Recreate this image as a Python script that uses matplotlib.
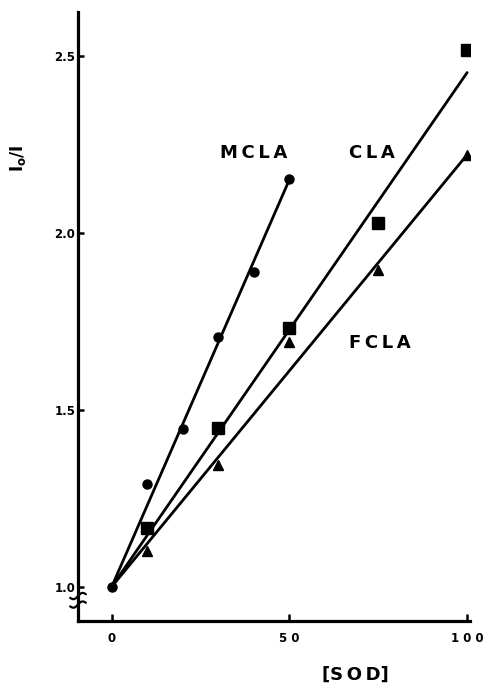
import matplotlib
matplotlib.use("Agg")
import matplotlib.pyplot as plt
import numpy as np

# ---- data ----
mcla_x = [0, 10, 20, 30, 40, 50]
mcla_y = [1.00, 1.29, 1.445, 1.705, 1.89, 2.15]
cla_x = [0, 10, 30, 50, 75, 100]
cla_y = [1.00, 1.165, 1.447, 1.73, 2.028, 2.516]
fcla_x = [0, 10, 30, 50, 75, 100]
fcla_y = [1.00, 1.10, 1.345, 1.69, 1.895, 2.22]

# regression lines (start / end points)
mcla_fit_x = [0, 50]
mcla_fit_y = [1.00, 2.15]
cla_fit_x = [0, 100]
cla_fit_y = [1.00, 2.452]
fcla_fit_x = [0, 100]
fcla_fit_y = [1.00, 2.22]

x_ticks = [0, 50, 100]
x_ticklabels = ["0", "5 0", "1 0 0"]
y_ticks = [1.0, 1.5, 2.0, 2.5]
y_ticklabels = ["1.0", "1.5", "2.0", "2.5"]

plt.rcParams['font.family'] = ['DejaVu Sans']
fig = plt.figure(figsize=(4.89, 6.88), dpi=100)
W, H = 489, 688
ax = fig.add_axes([78 / W, (H - 621) / H, (470 - 78) / W, (621 - 12) / H])

lw = 2.0
ax.plot(mcla_fit_x, mcla_fit_y, color='black', lw=lw, solid_capstyle='round')
ax.plot(cla_fit_x, cla_fit_y, color='black', lw=lw, solid_capstyle='round')
ax.plot(fcla_fit_x, fcla_fit_y, color='black', lw=lw, solid_capstyle='round')

# the shared origin point is drawn once, as a dot
ax.plot(cla_x, cla_y, 's', color='black', ms=8.5, ls='none', markevery=slice(1, None))
ax.plot(fcla_x, fcla_y, '^', color='black', ms=7.5, ls='none', markevery=slice(1, None))
ax.plot(mcla_x, mcla_y, 'o', color='black', ms=6.5, ls='none')

ax.set_xlim(-9.5, 100.8)
ax.set_ylim(0.903, 2.623)

for s in ['top', 'right']:
    ax.spines[s].set_visible(False)
for s in ['left', 'bottom']:
    ax.spines[s].set_linewidth(2.3)

ax.set_xticks(x_ticks)
ax.set_xticklabels(x_ticklabels, fontsize=8.5, fontweight='bold')
ax.set_yticks(y_ticks)
ax.set_yticklabels(y_ticklabels, fontsize=8.5, fontweight='bold')
ax.tick_params(axis='x', direction='in', length=5, width=1.8, pad=8)
ax.tick_params(axis='y', direction='in', length=4, width=1.8, pad=2)

# axis break marks
t = np.linspace(-1, 1, 40)
for yc in (0.041, 0.027):
    xs = t * 0.02
    ys = yc + 0.0035 * np.sin(t * np.pi) + 0.003 * t
    ax.plot(xs, ys, color='black', lw=1.6, transform=ax.transAxes, clip_on=False,
            solid_capstyle='round')

# curve labels
lab_kw = dict(fontsize=13, fontweight='bold', ha='center', va='center')
ax.text(39.8, 2.225, "M\u2009C\u2009L\u2009A", **lab_kw)
ax.text(73.3, 2.225, "C\u2009L\u2009A", **lab_kw)
ax.text(75.5, 1.688, "F\u2009C\u2009L\u2009A", **lab_kw)

fig.text(355 / W, 1 - 675 / H, "[S\u2009O\u2009D]", fontsize=13, fontweight='bold',
         ha='center', va='center')
fig.text(18 / W, 1 - 158 / H, r"I$_{\mathbf{o}}$/I", fontsize=12, fontweight='bold',
         rotation=90, ha='center', va='center')

fig.savefig("out.png", dpi=100)
